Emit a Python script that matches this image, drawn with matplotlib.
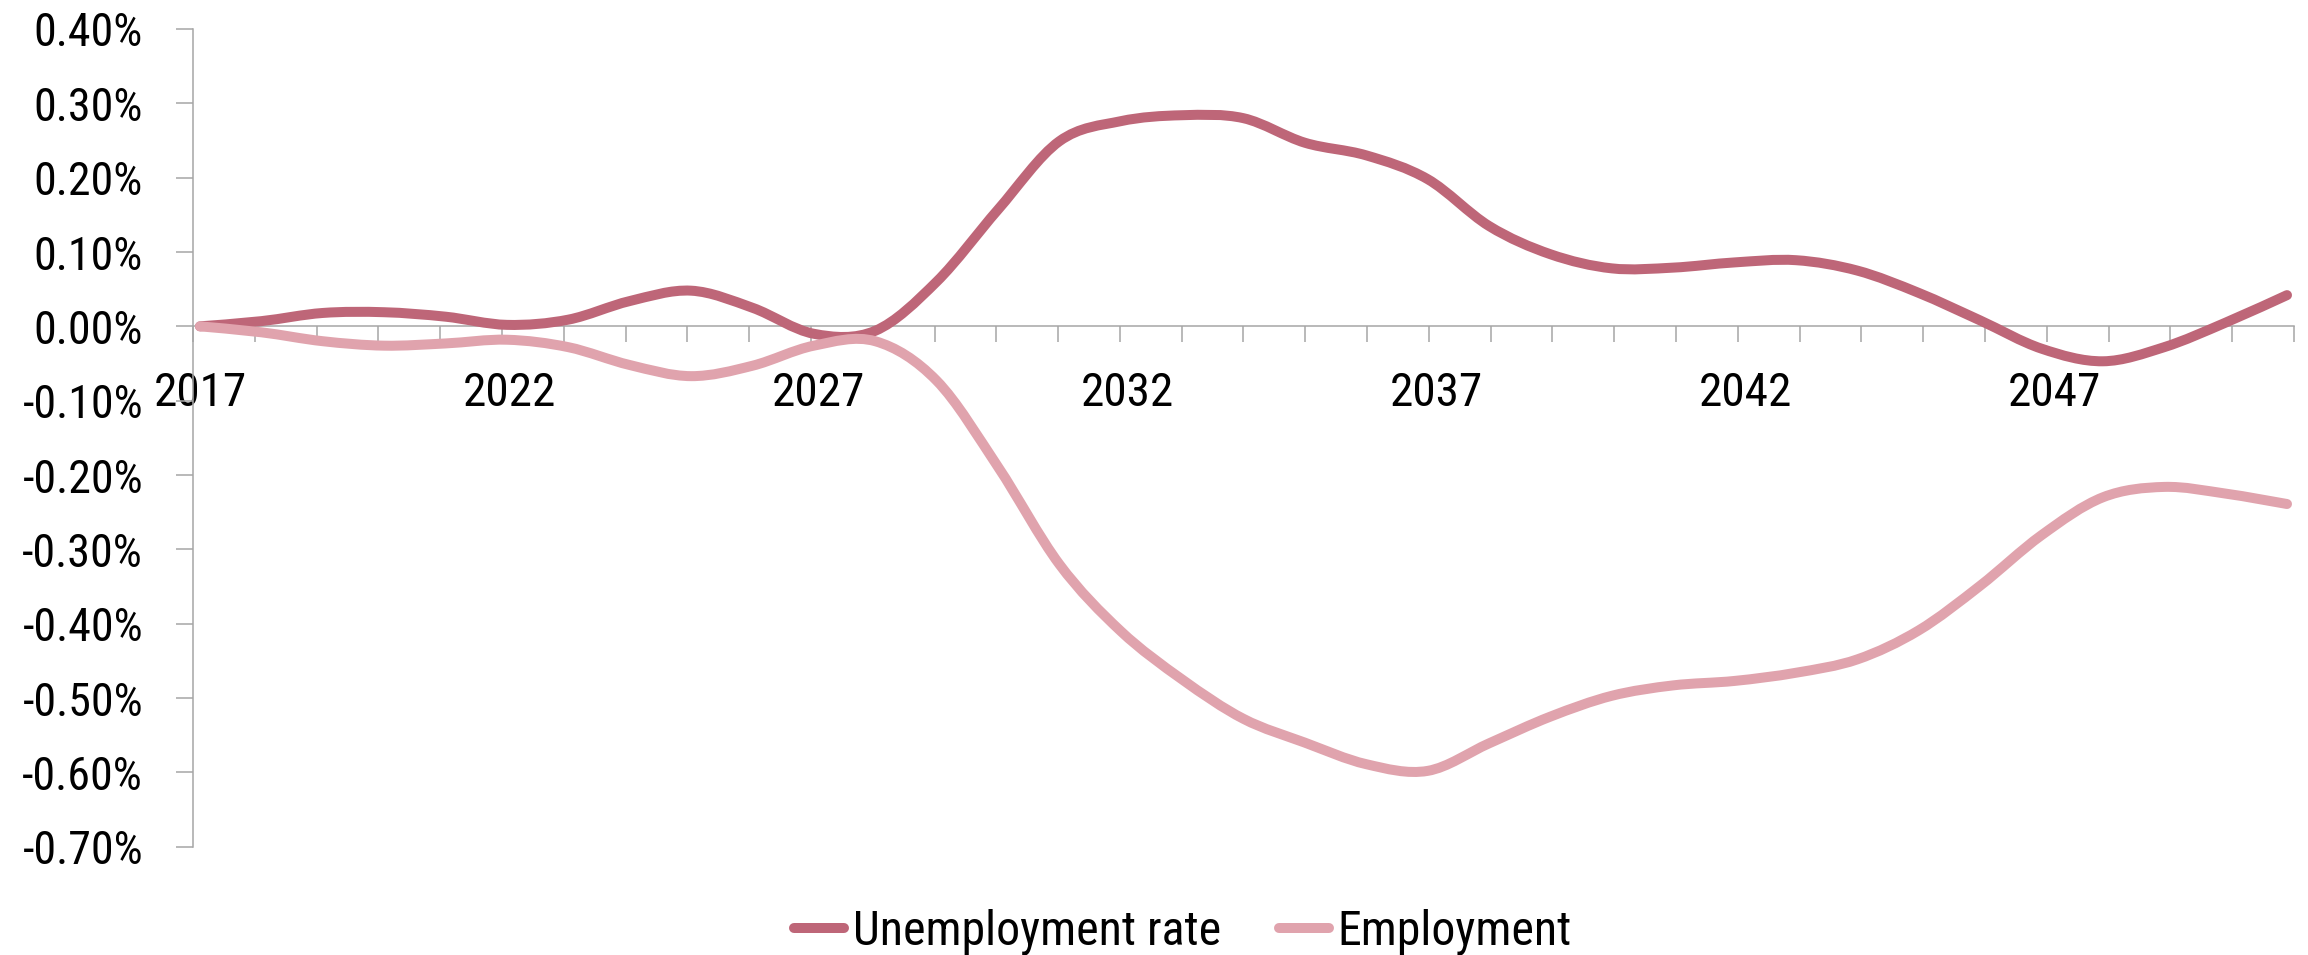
import numpy as np
import matplotlib
matplotlib.use('Agg')
import matplotlib.pyplot as plt
from matplotlib.path import Path
from matplotlib.patches import PathPatch
from matplotlib.lines import Line2D
from matplotlib.font_manager import FontProperties, findfont

# data (values in %)
years = list(range(2017, 2052))
unemployment_rate = [0.000, 0.007, 0.018, 0.019, 0.013, 0.002, 0.009, 0.034, 0.048, 0.025,
                     -0.010, -0.006, 0.060, 0.157, 0.249, 0.276, 0.284, 0.280, 0.247, 0.230,
                     0.198, 0.135, 0.097, 0.078, 0.079, 0.086, 0.089, 0.075, 0.045, 0.008,
                     -0.030, -0.047, -0.028, 0.005, 0.042]
employment = [0.000, -0.008, -0.020, -0.026, -0.023, -0.018, -0.028, -0.052, -0.067, -0.053,
              -0.026, -0.020, -0.073, -0.189, -0.320, -0.410, -0.475, -0.528, -0.560, -0.589,
              -0.598, -0.561, -0.525, -0.497, -0.483, -0.477, -0.466, -0.448, -0.409, -0.349,
              -0.281, -0.230, -0.216, -0.225, -0.239]
series_names = ['Unemployment rate', 'Employment']
year_labels = ['2017', '2022', '2027', '2032', '2037', '2042', '2047']
y_ticks = [0.4, 0.3, 0.2, 0.1, 0.0, -0.1, -0.2, -0.3, -0.4, -0.5, -0.6, -0.7]

colors = ['#BE6678', '#E0A3AD']
axis_grey = '#A6A6A6'


def pick_font():
    for name in ['Roboto Condensed', 'Liberation Sans Narrow', 'Roboto', 'DejaVu Sans']:
        try:
            findfont(FontProperties(family=name), fallback_to_default=False)
            return name
        except ValueError:
            pass
    return 'DejaVu Sans'


def smooth_path(x, y):
    '''Excel-like smoothed line: cubic bezier segments through every point'''
    pts = np.column_stack([x, y]).astype(float)
    n = len(pts)
    verts = [pts[0]]
    codes = [Path.MOVETO]
    for i in range(n - 1):
        p_prev = pts[max(i - 1, 0)]
        p0, p1 = pts[i], pts[i + 1]
        p_next = pts[min(i + 2, n - 1)]
        verts += [p0 + (p1 - p_prev) / 6, p1 - (p_next - p0) / 6, p1]
        codes += [Path.CURVE4] * 3
    return Path(verts, codes)


plt.rcParams['font.family'] = [pick_font(), 'DejaVu Sans']

fig = plt.figure(figsize=(23.08, 9.55), dpi=100)
ax = fig.add_axes([193 / 2308, 1 - 846.7 / 955, (2294 - 193) / 2308, (846.7 - 29) / 955])

lw = 7.2
for i, vals in enumerate([unemployment_rate, employment]):
    patch = PathPatch(smooth_path(years, vals), fill=False, edgecolor=colors[i], lw=lw,
                      capstyle='round', joinstyle='round', zorder=3 + i)
    ax.add_patch(patch)

pad = 7 / 61.38
x0, x1 = years[0] - pad, years[-1] + pad
ax.set_xlim(x0, x1)
ax.set_ylim(-0.7, 0.4)

step = (x1 - x0) / (len(years) - 1)
minor_pos = [x0 + k * step for k in range(len(years))]
label_pos = [x0 + (int(t) - years[0]) * step + 0.12 for t in year_labels]

ax.set_xticks(label_pos)
ax.set_xticklabels(year_labels)
ax.set_xticks(minor_pos, minor=True)
ax.tick_params(axis='x', which='major', length=0, pad=32, labelsize=34)
ax.tick_params(axis='x', which='minor', length=11.5, width=1.1, color=axis_grey, direction='out')

ax.set_yticks(y_ticks)
ax.set_yticklabels(['{:.2f}%'.format(v).replace('-0.00', '0.00') for v in y_ticks])
ax.tick_params(axis='y', length=12, width=1.1, color=axis_grey, direction='out', pad=24, labelsize=33)

for s in ['top', 'right']:
    ax.spines[s].set_visible(False)
ax.spines['bottom'].set_position(('data', 0))
for s in ['left', 'bottom']:
    ax.spines[s].set_color(axis_grey)
    ax.spines[s].set_linewidth(1.1)

handles = [Line2D([], [], color=c, lw=lw, solid_capstyle='round') for c in colors]
fig.legend(handles, series_names, loc='center', bbox_to_anchor=(1183 / 2308, 1 - 932 / 955),
           ncol=2, frameon=False, fontsize=34.5, handlelength=1.05, handletextpad=0.18,
           columnspacing=1.2)

fig.savefig('out.png', dpi=100)
